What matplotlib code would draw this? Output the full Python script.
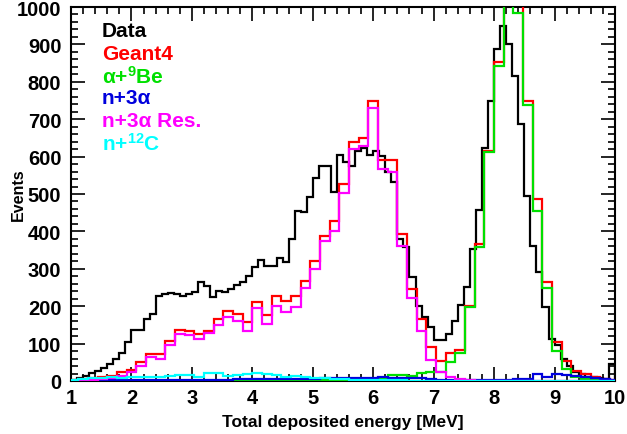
"""
Total deposited energy: data vs Geant4 components.
"""

import numpy as np
import matplotlib.pyplot as plt

plt.rcParams['font.family'] = ['Liberation Sans', 'DejaVu Sans']
plt.rcParams['font.weight'] = 'bold'
plt.rcParams['mathtext.fontset'] = 'custom'
plt.rcParams['mathtext.rm'] = 'Liberation Sans:bold'
plt.rcParams['mathtext.default'] = 'rm'

# Data: 0.1 MeV bins from 1.0 to 10.0
data_start, data_width = 1.0, 0.1
data_counts = [
    3, 8, 14, 22, 28, 35, 45, 58, 75, 104,
    137, 137, 166, 180, 227, 232, 235, 232, 227, 233,
    238, 266, 255, 224, 241, 238, 246, 257, 264, 282,
    304, 324, 308, 308, 328, 318, 380, 455, 453, 491,
    542, 574, 574, 506, 604, 586, 574, 616, 622, 604,
    616, 602, 558, 531, 380, 358, 278, 200, 172, 144,
    110, 110, 126, 161, 203, 251, 353, 457, 622, 749,
    888, 950, 901, 816, 687, 495, 362, 292, 197, 112,
    95, 60, 40, 25, 18, 12, 10, 8, 5, 45,
]

# Simulation: 0.16 MeV bins starting at 0.96 MeV
sim_start, sim_width = 0.96, 0.16
geant4 = [
    2, 5, 8, 12, 14, 25, 30, 50, 72, 72,
    108, 137, 133, 126, 133, 166, 188, 180, 159, 210,
    177, 228, 215, 228, 268, 322, 387, 429, 527, 640,
    651, 750, 592, 592, 393, 246, 166, 90, 54, 75,
    84, 201, 366, 616, 854, 1010, 1005, 749, 487, 264,
    103, 54, 28, 19, 10, 6, 3,
]
alpha_be9 = [
    0, 0, 0, 0, 0, 0, 0, 0, 0, 0,
    0, 0, 0, 1, 1, 0, 0, 0, 0, 0,
    0, 0, 0, 1, 1, 2, 2, 3, 3, 3,
    4, 5, 8, 16, 17, 14, 21, 25, 25, 52,
    75, 198, 357, 611, 841, 1010, 985, 738, 455, 248,
    81, 32, 10, 5, 2, 1, 0,
]
n_3alpha = [
    1, 1, 1, 1, 2, 2, 2, 2, 3, 3,
    3, 3, 4, 4, 4, 4, 4, 5, 5, 5,
    5, 5, 5, 5, 6, 6, 7, 8, 8, 9,
    9, 9, 10, 9, 8, 8, 7, 5, 3, 2,
    2, 2, 2, 2, 2, 3, 5, 5, 19, 12,
    19, 15, 13, 12, 8, 5, 3,
]
n_3alpha_res = [
    1, 2, 4, 6, 7, 14, 25, 41, 63, 59,
    96, 126, 123, 112, 128, 150, 170, 160, 135, 194,
    152, 200, 185, 197, 250, 299, 375, 402, 504, 620,
    629, 729, 567, 560, 362, 221, 135, 56, 25, 10,
    5, 2, 1, 0, 0, 0, 0, 0, 0, 0,
    0, 0, 0, 0, 0, 0, 0,
]
n_c12 = [
    4, 5, 8, 7, 10, 8, 11, 12, 12, 11,
    14, 16, 15, 12, 22, 22, 14, 15, 18, 22,
    18, 16, 12, 14, 10, 8, 7, 6, 5, 4,
    4, 3, 3, 2, 2, 1, 1, 1, 1, 1,
    0, 0, 0, 0, 0, 0, 0, 0, 0, 0,
    0, 0, 0, 0, 0, 0, 0,
]

labels = ['Data', 'Geant4', 'α+$^{9}$Be', 'n+3α', 'n+3α Res.', 'n+$^{12}$C']
colors = ['black', '#ff0000', '#00e000', '#0000dd', '#ff00ff', '#00ffff']

data_edges = data_start + data_width * np.arange(len(data_counts) + 1)
sim_edges = sim_start + sim_width * np.arange(len(geant4) + 1)

fig = plt.figure(figsize=(6.27, 4.35), dpi=100)
ax = fig.add_axes([71 / 627, 1 - 382 / 435, 544 / 627, 374 / 435])

lw = 1.6
ax.stairs(data_counts, data_edges, color=colors[0], lw=lw, zorder=2)
sim_series = [geant4, alpha_be9, n_3alpha, n_3alpha_res, n_c12]
for i, vals in enumerate(sim_series):
    ax.stairs(vals, sim_edges, color=colors[i + 1], lw=lw, zorder=3 + i)

ax.set_xlim(1, 10)
ax.set_ylim(0, 1000)
ax.set_xticks(np.arange(1, 11))
ax.set_xticks(np.arange(1, 10.01, 0.2), minor=True)
ax.set_yticks(np.arange(0, 1001, 100))
ax.set_yticks(np.arange(0, 1001, 20), minor=True)
ax.tick_params(which='both', direction='in', top=True, right=True, width=1.2)
ax.tick_params(which='major', length=10, labelsize=14.5)
ax.tick_params(which='minor', length=5)
ax.tick_params(axis='x', pad=5)
ax.tick_params(axis='y', pad=7)
for lab in ax.get_xticklabels() + ax.get_yticklabels():
    lab.set_fontweight('bold')
for sp in ax.spines.values():
    sp.set_linewidth(1.5)

ax.set_xlabel('Total deposited energy [MeV]', fontsize=12.5, fontweight='bold')
ax.set_ylabel('Events', fontsize=11.5, fontweight='bold')
ax.xaxis.set_label_coords(0.5, -0.088)
ax.yaxis.set_label_coords(-0.083, 0.5)

# Легенда цветным текстом
for i, (lab, col) in enumerate(zip(labels, colors)):
    ax.text(0.057, 0.936 - i * 0.0597, lab, color=col, fontsize=15,
            fontweight='bold', transform=ax.transAxes, va='center', ha='left')

fig.savefig('out.png', dpi=100)
